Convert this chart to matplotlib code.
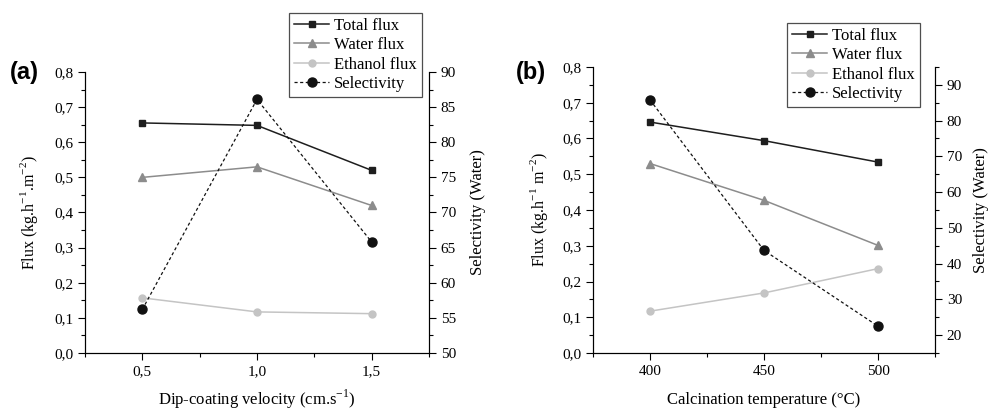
import numpy as np
import matplotlib.pyplot as plt
from matplotlib.ticker import FuncFormatter, MultipleLocator

plt.rcParams['font.family'] = ['Liberation Serif', 'DejaVu Serif']
plt.rcParams['mathtext.fontset'] = 'custom'
plt.rcParams['mathtext.rm'] = 'Liberation Serif'

# DATA
velocity = [0.5, 1.0, 1.5]
total_a = [0.655, 0.648, 0.520]
water_a = [0.500, 0.530, 0.420]
ethanol_a = [0.157, 0.117, 0.112]
select_a = [56.2, 86.1, 65.8]

temperature = [400, 450, 500]
total_b = [0.646, 0.594, 0.534]
water_b = [0.530, 0.427, 0.301]
ethanol_b = [0.117, 0.168, 0.236]
select_b = [85.8, 43.7, 22.5]

c_total = '#1e1e1e'
c_water = '#8c8c8c'
c_eth = '#c4c4c4'
c_sel = '#111111'

comma = FuncFormatter(lambda v, p: ('%.1f' % v).replace('.', ','))

fig = plt.figure(figsize=(9.9, 4.12), dpi=100)
W, H = 990, 412


def panel(rect, x, tot, wat, eth, sel, xlim, xmaj, ylim2, y2maj, xlabel, ylabel,
          xfmt, leg_rect, tag, tag_xy, pads):
    l, t, r, b = rect
    ax = fig.add_axes([l / W, 1 - b / H, (r - l) / W, (b - t) / H])
    ax2 = ax.twinx()
    h1, = ax.plot(x, tot, '-s', color=c_total, ms=5, lw=1.1, label='Total flux')
    h2, = ax.plot(x, wat, '-^', color=c_water, ms=5.5, lw=1.1, label='Water flux')
    h3, = ax.plot(x, eth, '-o', color=c_eth, ms=5, lw=1.1, label='Ethanol flux')
    h4, = ax2.plot(x, sel, 'o', ls=(0, (2.5, 2)), color=c_sel, ms=6.5, lw=0.9,
                   label='Selectivity')
    ax.set_xlim(*xlim)
    ax.set_ylim(0, 0.8)
    ax2.set_ylim(*ylim2)
    ax.xaxis.set_major_locator(MultipleLocator(xmaj))
    ax.xaxis.set_minor_locator(MultipleLocator(xmaj / 2))
    ax.yaxis.set_major_locator(MultipleLocator(0.1))
    ax.yaxis.set_minor_locator(MultipleLocator(0.05))
    ax2.yaxis.set_major_locator(MultipleLocator(y2maj))
    ax2.yaxis.set_minor_locator(MultipleLocator(y2maj / 2))
    ax.yaxis.set_major_formatter(comma)
    if xfmt:
        ax.xaxis.set_major_formatter(comma)
    for a in (ax, ax2):
        a.spines['top'].set_visible(False)
        a.tick_params(which='both', direction='out', labelsize=11, width=0.8)
        a.tick_params(which='major', length=5)
        a.tick_params(which='minor', length=3)
    ax.set_xlabel(xlabel, fontsize=12, labelpad=pads[2])
    ax.set_ylabel(ylabel, fontsize=11.5, labelpad=pads[0])
    ax2.set_ylabel('Selectivity (Water)', fontsize=12, labelpad=pads[1])
    ll, lt, lr, lb = leg_rect
    leg = fig.legend(handles=[h1, h2, h3, h4], loc='upper left',
                     bbox_to_anchor=(ll / W, 1 - lt / H), fontsize=12,
                     frameon=True, fancybox=False, handlelength=2.1,
                     handletextpad=0.3, borderpad=0.3, labelspacing=0.2,
                     borderaxespad=0)
    leg.get_frame().set_edgecolor('#222222')
    leg.get_frame().set_linewidth(0.9)
    fig.text(tag_xy[0] / W, 1 - tag_xy[1] / H, tag, fontsize=17, fontweight='bold',
             family='Liberation Sans', va='center', ha='left')
    return ax


panel((85, 72, 429, 353), velocity, total_a, water_a, ethanol_a, select_a,
      (0.25, 1.75), 0.5, (50, 90), 5,
      'Dip-coating velocity (cm.s$^{-1}$)', 'Flux (kg.h$^{-1}$.m$^{-2}$)',
      True, (289, 13, 421, 97), '(a)', (10, 72), (10, 10, 7))

panel((593, 67, 935, 353), temperature, total_b, water_b, ethanol_b, select_b,
      (375, 525), 50, (15, 95), 10,
      'Calcination temperature (\u00b0C)', 'Flux (kg.h$^{-1}$ m$^{-2}$)',
      False, (787, 23, 922, 109), '(b)', (516, 72), (9, 8, 10))

fig.savefig('out.png', dpi=100)
